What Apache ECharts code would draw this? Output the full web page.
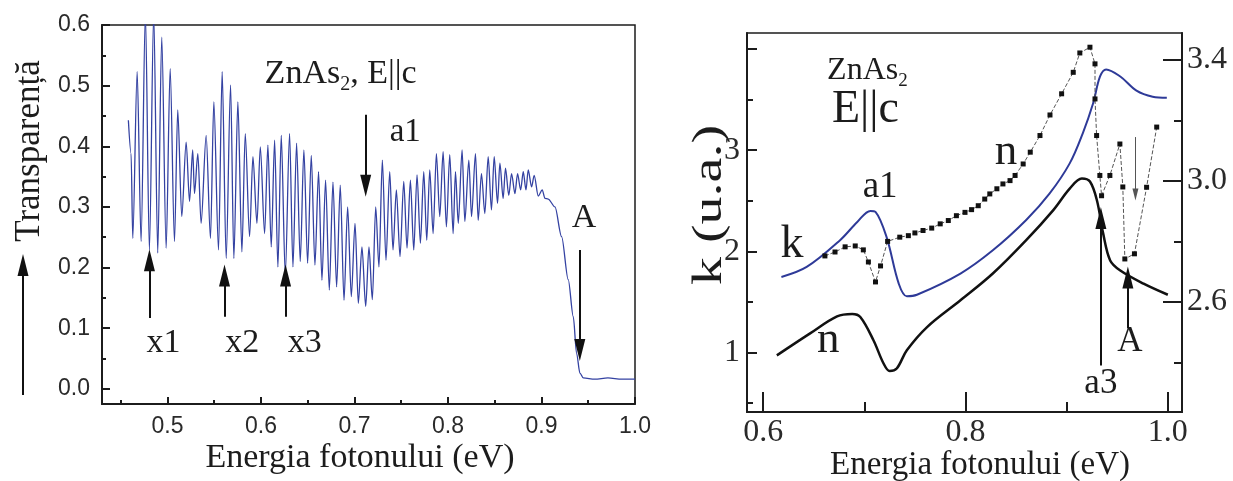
<!DOCTYPE html>
<html>
<head>
<meta charset="utf-8">
<script src="https://cdn.jsdelivr.net/npm/echarts@6/dist/echarts.min.js"></script>
<style>
html,body{margin:0;padding:0;background:#fff}
#c{width:1233px;height:481px}
</style>
</head>
<body>
<div id="c"></div>
<script>
// ---- Transmission spectrum of ZnAs2 (E || c): photon energy (eV) vs transparency ----
const transpE = [
  0.4582,0.4611,0.4629,0.4676,0.4718,0.4764,0.4807,0.4853,0.4896,0.4939,0.4986,0.5029,0.5075,0.5110,
  0.5153,0.5200,0.5236,0.5270,0.5289,0.5325,0.5360,0.5414,0.5460,0.5496,0.5546,0.5585,0.5628,0.5675,
  0.5710,0.5753,0.5796,0.5832,0.5878,0.5914,0.5957,0.5993,0.6039,0.6074,0.6110,0.6146,0.6181,0.6217,
  0.6260,0.6306,0.6342,0.6381,0.6420,0.6459,0.6499,0.6538,0.6577,0.6616,0.6652,0.6691,0.6731,0.6770,
  0.6809,0.6848,0.6888,0.6927,0.6966,0.7006,0.7041,0.7080,0.7120,0.7155,0.7191,0.7227,0.7262,0.7298,
  0.7337,0.7377,0.7412,0.7448,0.7487,0.7527,0.7562,0.7598,0.7634,0.7669,0.7705,0.7741,0.7773,0.7805,
  0.7841,0.7876,0.7912,0.7948,0.7983,0.8019,0.8055,0.8080,0.8110,0.8151,0.8180,0.8223,0.8252,0.8294,
  0.8323,0.8358,0.8394,0.8430,0.8465,0.8494,0.8530,0.8555,0.8590,0.8615,0.8650,0.8680,0.8716,0.8744,
  0.8777,0.8805,0.8834,0.8858,0.8894,0.8922,0.8965,0.9008,0.9037,0.9072,0.9144,0.9215,0.9286,0.9340,
  0.9375,0.9411,0.9447,0.9570,0.9710,0.9860,1.0000
];
const transpT = [
  0.443,0.388,0.248,0.523,0.243,0.620,0.229,0.620,0.224,0.580,0.232,0.528,0.243,0.460,
  0.284,0.407,0.309,0.394,0.322,0.388,0.273,0.418,0.248,0.473,0.229,0.523,0.215,0.501,
  0.215,0.473,0.226,0.421,0.251,0.383,0.273,0.399,0.256,0.402,0.234,0.410,0.201,0.418,
  0.188,0.421,0.201,0.405,0.210,0.394,0.207,0.385,0.204,0.358,0.179,0.344,0.163,0.341,
  0.168,0.336,0.146,0.300,0.152,0.273,0.141,0.234,0.136,0.234,0.147,0.300,0.201,0.377,
  0.212,0.358,0.229,0.328,0.218,0.342,0.232,0.344,0.229,0.353,0.240,0.358,0.245,0.361,
  0.256,0.388,0.284,0.391,0.267,0.386,0.256,0.358,0.273,0.394,0.276,0.377,0.284,0.388,
  0.278,0.355,0.289,0.383,0.295,0.383,0.306,0.372,0.314,0.364,0.319,0.355,0.322,0.355,
  0.328,0.358,0.328,0.361,0.333,0.352,0.318,0.328,0.314,0.313,0.300,0.251,0.180,0.119,
  0.059,0.026,0.018,0.016,0.018,0.016,0.016
];

// ---- Optical constants: extinction coefficient k and refractive index n ----
const kE   = [0.618,0.643,0.676,0.693,0.706,0.711,0.722,0.734,0.742,0.752,0.795,0.827,0.860,0.883,0.903,0.916,0.926,0.933,0.939,0.953,0.969,0.985,0.999];
const kVal = [1.746,1.845,2.110,2.290,2.400,2.390,2.140,1.680,1.555,1.570,1.780,2.010,2.310,2.570,2.870,3.170,3.460,3.730,3.800,3.730,3.590,3.530,3.520];

const nLowE   = [0.6135,0.646,0.673,0.688,0.696,0.709,0.719,0.725,0.732,0.742,0.762,0.795,0.827,0.860,0.887,0.903,0.915,0.923,0.930,0.936,0.943,0.953,0.976,1.000];
const nLowVal = [0.97,1.185,1.356,1.38,1.35,1.12,0.89,0.815,0.84,1.02,1.25,1.515,1.78,2.11,2.41,2.62,2.72,2.69,2.50,2.18,1.91,1.81,1.68,1.57];

// refractive index n, read on the right-hand scale
const nE = [0.661,0.671,0.681,0.691,0.699,0.704,0.711,0.716,0.723,0.735,0.7435,0.750,0.758,0.7666,0.775,0.783,0.791,0.7995,0.806,0.8126,0.819,
            0.824,0.831,0.837,0.844,0.849,0.857,0.864,0.8736,0.8835,0.895,0.9065,0.913,0.923,0.928,0.928,0.9296,0.9328,0.9345,0.9427,0.9526,
            0.9555,0.9575,0.967,0.979,0.989];
const nVal = [2.752,2.765,2.782,2.785,2.772,2.732,2.666,2.719,2.800,2.814,2.819,2.828,2.836,2.844,2.858,2.869,2.885,2.896,2.905,2.918,2.940,
              2.957,2.974,2.990,3.001,3.018,3.056,3.095,3.150,3.218,3.288,3.359,3.423,3.442,3.387,3.271,3.150,3.018,2.951,3.018,3.122,
              2.980,2.742,2.759,2.979,3.178];

// ---- Tick values ----
const leftXTicks  = [0.5,0.6,0.7,0.8,0.9,1.0];
const leftXMinor  = [0.45,0.55,0.65,0.75,0.85,0.95];
const leftYTicks  = [0,0.1,0.2,0.3,0.4,0.5,0.6];
const leftYMinor  = [0.05,0.15,0.25,0.35,0.45,0.55];
const rightXTicks = [0.6,0.8,1.0];
const rightXMinor = [0.7,0.9];
const kTicks      = [1,2,3,4];
const kLabels     = [1,2,3];
const kMinor      = [0.5,1.5,2.5,3.5];
const nTicks      = [2.6,3.0,3.4];
const nMinor      = [2.4,2.8,3.2];

// annotation arrows, in data units: [x0, y0, x1, y1] (arrowhead at x1,y1)
const arrowsTransp = [
  [0.4807,0.117,0.4807,0.212],   // x1
  [0.5610,0.119,0.5610,0.187],   // x2
  [0.6263,0.119,0.6263,0.187],   // x3
  [0.7120,0.452,0.7120,0.335],   // a1
  [0.9410,0.229,0.9410,0.064]    // A
];
const arrowsK = [
  [0.9338,0.871,0.9338,2.330],   // a3
  [0.9605,1.238,0.9605,1.740]    // A
];
const arrowsN = [
  [0.9680,3.145,0.9680,2.955]
];

const zip = (a, b) => a.map((v, i) => [v, b[i]]);
const INK = '#1c1c1c';
const SERIF = '"Liberation Serif", "DejaVu Serif", serif';
const SANS = '"Liberation Sans", Arial, sans-serif';

function axis(base, ticks, len, labels, fmt, font, size, margin, hideLine) {
  return Object.assign({
    type: 'value',
    splitLine: { show: false },
    axisLine: { show: !hideLine, onZero: false, lineStyle: { color: INK, width: 2 } },
    axisTick: { show: true, inside: true, length: len, customValues: ticks, lineStyle: { color: INK, width: 2 } },
    axisLabel: labels ? {
      show: true, customValues: labels, formatter: fmt,
      fontFamily: font, fontSize: size, color: '#2a2a2a', margin: margin
    } : { show: false }
  }, base);
}

function arrowLines(list, color, width, size) {
  return {
    silent: true, animation: false,
    symbol: ['none', 'triangle'], symbolSize: size,
    label: { show: false },
    lineStyle: { color: color, width: width, type: 'solid' },
    emphasis: { disabled: true },
    data: list.map(a => [{ coord: [a[0], a[1]] }, { coord: [a[2], a[3]] }])
  };
}

const chart = echarts.init(document.getElementById('c'), null, { renderer: 'canvas' });

const option = {
  animation: false,
  backgroundColor: '#fff',
  grid: [
    { left: 102, top: 25, width: 533, height: 379, show: true, borderColor: INK, borderWidth: 1.5, outerBoundsMode: 'none', containLabel: false },
    { left: 747, top: 33, width: 435, height: 379, show: true, borderColor: INK, borderWidth: 1.5, outerBoundsMode: 'none', containLabel: false }
  ],
  xAxis: [
    axis({ gridIndex: 0, position: 'bottom', min: 0.43, max: 1.0 }, leftXTicks, 7, leftXTicks, v => v.toFixed(1), SANS, 23, 11),
    axis({ gridIndex: 0, position: 'bottom', min: 0.43, max: 1.0 }, leftXMinor, 4, null, null, null, 0, 0, true),
    axis({ gridIndex: 1, position: 'bottom', min: 0.584, max: 1.014 }, rightXTicks, 20, rightXTicks, v => v.toFixed(1), SERIF, 32, 5),
    axis({ gridIndex: 1, position: 'bottom', min: 0.584, max: 1.014 }, rightXMinor, 10, null, null, null, 0, 0, true)
  ],
  yAxis: [
    axis({ gridIndex: 0, position: 'left', min: -0.025, max: 0.6 }, leftYTicks, 8, leftYTicks, v => v.toFixed(1), SANS, 23, 12),
    axis({ gridIndex: 0, position: 'left', min: -0.025, max: 0.6 }, leftYMinor, 4, null, null, null, 0, 0, true),
    axis({ gridIndex: 1, position: 'left', min: 0.41, max: 4.16 }, kTicks, 10, kLabels, v => String(v), SERIF, 32, 7),
    axis({ gridIndex: 1, position: 'left', min: 0.41, max: 4.16 }, kMinor, 6, null, null, null, 0, 0, true),
    axis({ gridIndex: 1, position: 'right', min: 2.236, max: 3.489 }, nTicks, 19, nTicks, v => v.toFixed(1), SERIF, 32, 5),
    axis({ gridIndex: 1, position: 'right', min: 2.236, max: 3.489 }, nMinor, 8, null, null, null, 0, 0, true)
  ],
  series: [
    {
      name: 'Transparență', type: 'line', xAxisIndex: 0, yAxisIndex: 0,
      data: zip(transpE, transpT), showSymbol: false, clip: true,
      smooth: 0.3, smoothMonotone: 'x',
      lineStyle: { color: '#3442a2', width: 1.3 },
      markLine: arrowLines(arrowsTransp, '#111', 2, [11, 22])
    },
    {
      name: 'k', type: 'line', xAxisIndex: 2, yAxisIndex: 2,
      data: zip(kE, kVal), showSymbol: false, smooth: 0.35,
      lineStyle: { color: '#2e3a98', width: 2 },
      markLine: arrowLines(arrowsK, '#111', 2, [11, 22])
    },
    {
      name: 'n', type: 'line', xAxisIndex: 2, yAxisIndex: 2,
      data: zip(nLowE, nLowVal), showSymbol: false, smooth: 0.35,
      lineStyle: { color: '#111', width: 2.5 }
    },
    {
      name: 'n (scala dreaptă)', type: 'line', xAxisIndex: 2, yAxisIndex: 4,
      data: zip(nE, nVal), symbol: 'rect', symbolSize: 5, showSymbol: true,
      itemStyle: { color: '#111' },
      lineStyle: { color: '#555', width: 1, type: 'dashed' },
      markLine: arrowLines(arrowsN, '#555', 1, [6, 12])
    }
  ]
};

chart.setOption(option);

// ---- text annotations, anchored in data coordinates ----
const px = (xi, yi, x, y) => chart.convertToPixel({ xAxisIndex: xi, yAxisIndex: yi }, [x, y]);
const meas = document.createElement('canvas').getContext('2d');
function textW(t, size) { meas.font = size + 'px "Liberation Serif"'; return meas.measureText(t).width; }

function label(p, text, size, align) {
  return {
    type: 'text', x: p[0], y: p[1], silent: true,
    style: { text: text, fontFamily: SERIF, fontSize: size, fill: INK, align: align || 'center', verticalAlign: 'middle' }
  };
}

// chemical formula with subscript 2, drawn from a left anchor
function formula(p, size, tail) {
  const w1 = textW('ZnAs', size);
  const sub = Math.round(size * 0.6);
  const w2 = textW('2', sub);
  const out = [
    label(p, 'ZnAs', size, 'left'),
    label([p[0] + w1, p[1] + size * 0.32], '2', sub, 'left')
  ];
  if (tail) out.push(label([p[0] + w1 + w2, p[1]], tail, size, 'left'));
  return out;
}

const g = [];
// left panel
g.push(...formula(px(0, 0, 0.6039, 0.519), 34, ', E||c'));
g.push(label(px(0, 0, 0.7377, 0.423), 'a1', 33, 'left'));
g.push(label(px(0, 0, 0.9454, 0.282), 'A', 34));
g.push(label(px(0, 0, 0.4957, 0.0758), 'x1', 34));
g.push(label(px(0, 0, 0.5800, 0.0758), 'x2', 34));
g.push(label(px(0, 0, 0.6467, 0.0758), 'x3', 34));
// right panel
g.push(...formula(px(2, 2, 0.6632, 3.79), 32, null));
g.push(label(px(2, 2, 0.668, 3.396), 'E||c', 46, 'left'));
g.push(label(px(2, 2, 0.7156, 2.634), 'a1', 37));
g.push(label(px(2, 2, 0.6286, 2.059), 'k', 46));
g.push(label(px(2, 2, 0.6642, 1.119), 'n', 45));
g.push(label(px(2, 2, 0.8400, 2.980), 'n', 45));
g.push(label(px(2, 2, 0.9338, 0.693), 'a3', 35));
g.push(label(px(2, 2, 0.9625, 1.109), 'A', 35));

// axis titles
g.push({ type: 'text', x: 30, y: 151, rotation: Math.PI / 2, silent: true,
  style: { text: 'Transparență', fontFamily: SERIF, fontSize: 35, fill: INK, align: 'center', verticalAlign: 'middle' } });
g.push(label([360, 458], 'Energia fotonului (eV)', 34));
g.push({ type: 'text', x: 710, y: 205, rotation: Math.PI / 2, scaleY: 0.76, silent: true,
  style: { text: 'k (u.a.)', fontFamily: SERIF, fontSize: 56, fill: INK, align: 'center', verticalAlign: 'middle' } });
g.push(label([980, 465], 'Energia fotonului (eV)', 33));

// upward arrow beside the transparency axis title
g.push({ type: 'line', silent: true, shape: { x1: 23, y1: 395, x2: 23, y2: 272 }, style: { stroke: '#111', lineWidth: 2 } });
g.push({ type: 'polygon', silent: true, shape: { points: [[23, 254], [17.5, 276], [28.5, 276]] }, style: { fill: '#111' } });

chart.setOption({ graphic: g });
</script>
</body>
</html>
